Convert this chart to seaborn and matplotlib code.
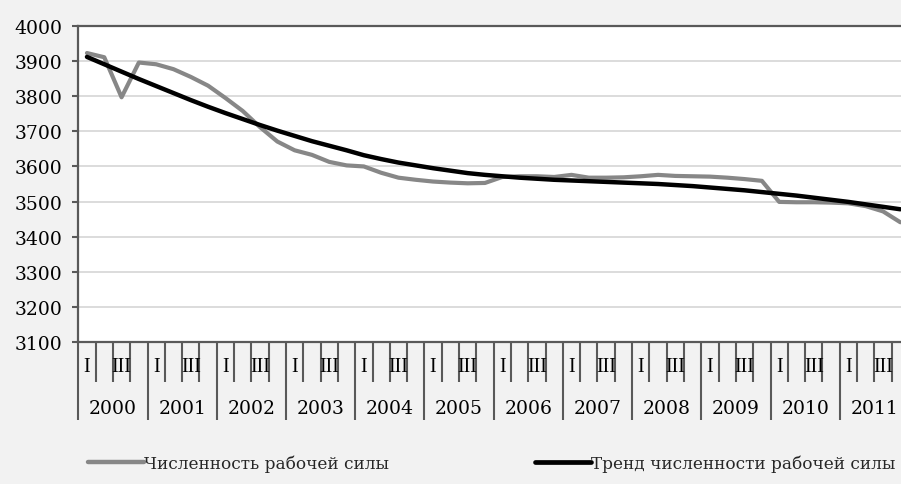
import numpy as np
import pandas as pd
import matplotlib
matplotlib.use("Agg")
import matplotlib.pyplot as plt
from matplotlib.lines import Line2D
from matplotlib.transforms import blended_transform_factory
import seaborn as sns

# ---------------- data ----------------
years = [str(y) for y in range(2000, 2012)]
quarter_labels = ["I", "", "III", ""]
series_names = ["Численность рабочей силы", "Тренд численности рабочей силы"]

labour_force = [
    3923, 3911, 3797, 3896,   # 2000
    3891, 3877, 3855, 3830,   # 2001
    3795, 3758, 3712, 3671,   # 2002
    3646, 3633, 3613, 3603,   # 2003
    3600, 3582, 3568, 3562,   # 2004
    3557, 3554, 3552, 3553,   # 2005
    3570, 3572, 3572, 3570,   # 2006
    3576, 3568, 3568, 3569,   # 2007
    3572, 3576, 3573, 3572,   # 2008
    3571, 3568, 3564, 3559,   # 2009
    3499, 3498, 3498, 3497,   # 2010
    3495, 3487, 3472, 3441,   # 2011
]
trend = [
    3912, 3891, 3870, 3849,
    3829, 3809, 3789, 3770,
    3752, 3735, 3718, 3702,
    3687, 3672, 3659, 3646,
    3632, 3621, 3611, 3603,
    3595, 3588, 3581, 3576,
    3572, 3568, 3565, 3562,
    3560, 3558, 3556, 3554,
    3552, 3550, 3547, 3544,
    3540, 3536, 3532, 3527,
    3522, 3517, 3511, 3505,
    3499, 3492, 3485, 3478,
]

# ---------------- style ----------------
sns.set_theme(style="white")
plt.rcParams['font.family'] = ['DejaVu Serif']

W, H = 901, 485
fig = plt.figure(figsize=(W / 100, H / 100), dpi=100)
fig.patch.set_facecolor('#f2f2f2')

left_px, right_px, top_px, bottom_px = 78.3, 909.0, 27.0, 343.0
ax = fig.add_axes([left_px / W, (H - bottom_px) / H,
                   (right_px - left_px) / W, (bottom_px - top_px) / H])
ax.set_facecolor('white')

n = len(labour_force)
df = pd.DataFrame({
    'q': np.concatenate([np.arange(n), np.arange(n)]),
    'value': labour_force + trend,
    'series': [series_names[0]] * n + [series_names[1]] * n,
})

gray = '#878787'
black = '#000000'
sns.lineplot(data=df[df.series == series_names[0]], x='q', y='value',
             color=gray, linewidth=3.0, ax=ax, legend=False, zorder=3)
sns.lineplot(data=df[df.series == series_names[1]], x='q', y='value',
             color=black, linewidth=3.2, ax=ax, legend=False, zorder=4)

ax.set_xlim(-0.5, n - 0.5)
ax.set_ylim(3100, 4000)
ax.set_yticks(np.arange(3100, 4001, 100))
ax.set_xlabel('')
ax.set_ylabel('')

ax.yaxis.grid(True, color='#d9d9d9', linewidth=1.3)
ax.xaxis.grid(False)
ax.set_axisbelow(True)

spine_col = '#595959'
for s in ['left', 'top', 'bottom']:
    ax.spines[s].set_color(spine_col)
    ax.spines[s].set_linewidth(1.6)
    ax.spines[s].set_visible(True)
ax.spines['right'].set_visible(False)

ax.tick_params(axis='y', which='major', direction='out', length=4.5, width=1.5,
               color=spine_col, pad=7, labelsize=13.5, labelcolor='black', left=True)

# category boundaries as ticks
ax.set_xticks(np.arange(0, n + 1, 4) - 0.5)
ax.set_xticks(np.arange(0, n + 1) - 0.5, minor=True)
ax.set_xticklabels([])
ax.tick_params(axis='x', which='major', direction='out', length=56, width=1.5,
               color=spine_col, bottom=True)
ax.tick_params(axis='x', which='minor', direction='out', length=28.5, width=1.5,
               color=spine_col, bottom=True)

trans = blended_transform_factory(ax.transData, ax.transAxes)
ah = bottom_px - top_px
yq = (bottom_px - 368) / ah
yy = (bottom_px - 409) / ah
for yi, yr in enumerate(years):
    for qi, ql in enumerate(quarter_labels):
        if ql:
            ax.text(yi * 4 + qi, yq, ql, transform=trans, ha='center', va='center',
                    fontsize=14.5, family=['Liberation Serif'], color='black', clip_on=False)
    ax.text(yi * 4 + 1.5, yy, yr, transform=trans, ha='center', va='center',
            fontsize=13.5, color='black', clip_on=False)

# legend
h1 = Line2D([], [], color=gray, linewidth=3.2)
h2 = Line2D([], [], color=black, linewidth=3.4)
ly = (H - 464) / H
for h, lab, x0 in [(h1, series_names[0], 88), (h2, series_names[1], 535)]:
    fig.legend(handles=[h], labels=[lab], loc='center left',
               bbox_to_anchor=(x0 / W, ly), frameon=False, handlelength=3.3,
               handletextpad=0.0, borderpad=0, borderaxespad=0, fontsize=12.2)

fig.savefig('out.png', dpi=100, facecolor=fig.get_facecolor())
